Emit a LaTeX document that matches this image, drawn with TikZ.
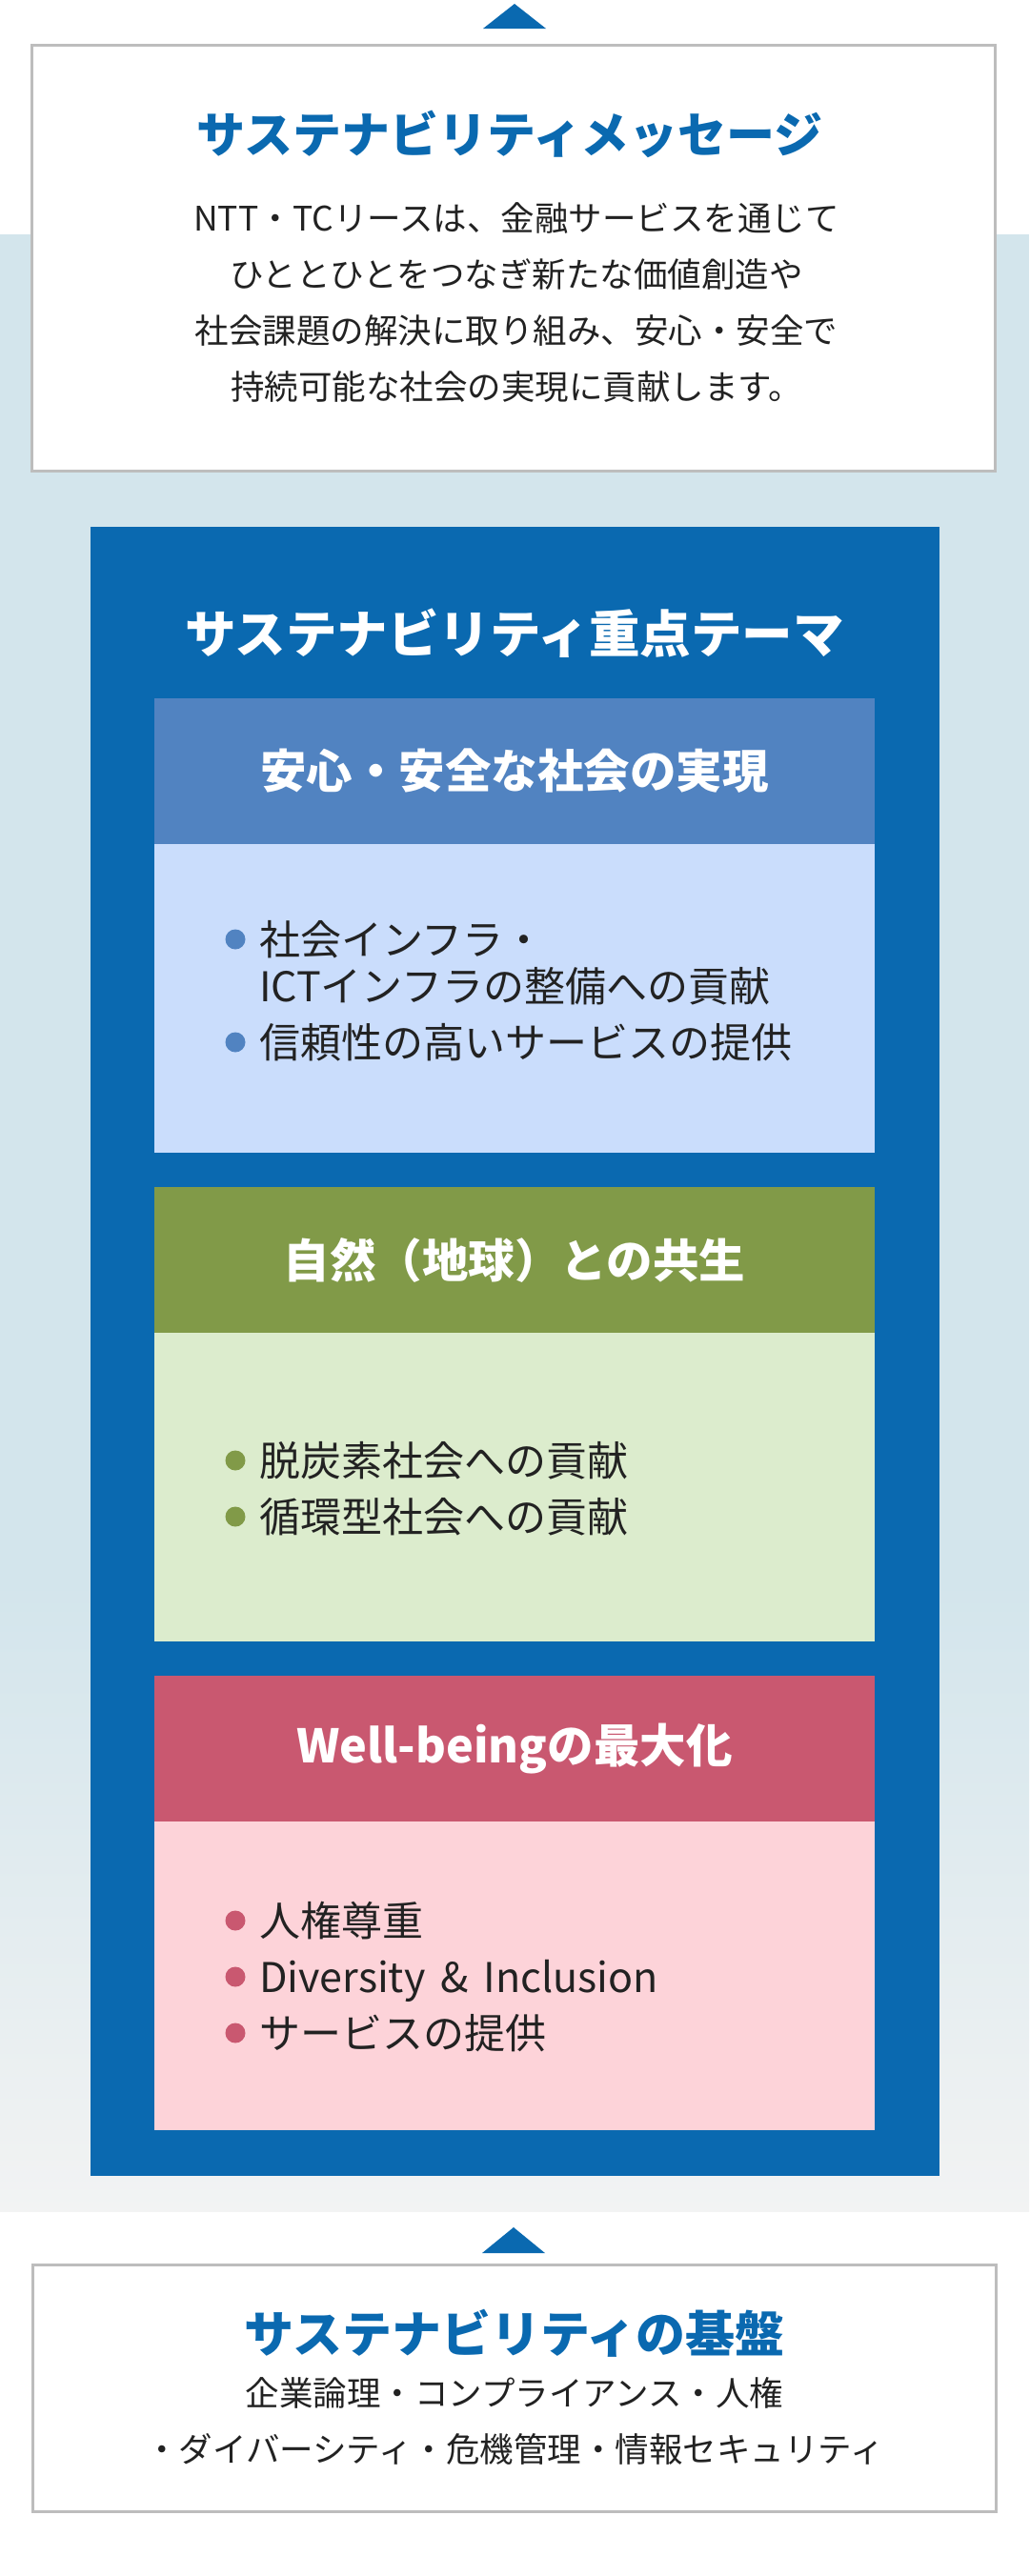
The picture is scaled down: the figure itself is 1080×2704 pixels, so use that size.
\documentclass[tikz,border=0pt]{standalone}
\usepackage{fontspec}
\setmainfont{Noto Sans CJK JP}
\usepackage{tikz}
\usetikzlibrary{positioning}
\definecolor{nttblue}{HTML}{0A69B0}
\definecolor{framegray}{HTML}{BDBDBD}
\definecolor{bandblue}{HTML}{D3E5EC}
\definecolor{bandgray}{HTML}{F2F3F3}
\definecolor{inkblack}{HTML}{222222}
\definecolor{safehead}{HTML}{5183C1}
\definecolor{safebody}{HTML}{CADDFC}
\definecolor{naturehead}{HTML}{819A48}
\definecolor{naturebody}{HTML}{DCECCD}
\definecolor{wellhead}{HTML}{C95870}
\definecolor{wellbody}{HTML}{FDD3D9}
\tikzset{
x=1pt, y=-1pt, % one unit is one pixel of the layout, y runs downwards
every node/.style={outer sep=0pt}, % boxes touch without a gap
framebox/.style={draw=framegray, line width=3pt, fill=white, minimum width=1011pt}, % the two framed boxes
bluetitle/.style={text=nttblue, font=\fontsize{51}{58}\selectfont\bfseries}, % blue headings in the framed boxes
plaintext/.style={text=inkblack, align=center, font=\fontsize{35.5}{59}\selectfont}, % body text in the framed boxes
themehead/.style={minimum width=756pt, minimum height=153pt, text=white, font=\fontsize{48.5}{56}\selectfont\bfseries}, % coloured bar of a theme
themebody/.style={minimum width=756pt, minimum height=324pt}, % pale part of a theme
dot/.style={circle, inner sep=0pt, minimum size=21pt}, % bullet
itemtext/.style={anchor=base west, inner sep=0pt, text=inkblack, align=left, font=\fontsize{43}{49}\selectfont}, % bullet text, anchored at its last line
}

\begin{document}
\begin{tikzpicture}
        \useasboundingbox (0,0) rectangle (1080,2704);
        \fill[bandblue] (0,246) rectangle (1080,1660);
        \shade[top color=bandblue, bottom color=bandgray] (0,1659) rectangle (1080,2321);

        \fill[nttblue] (507,30) -- (540,4) -- (573,30) -- cycle;
        \node[framebox, minimum height=447pt] (msg) at (539,271) {};
        \node[bluetitle] (msgtitle) at (535,141) {サステナビリティメッセージ};
        \node[plaintext] (msgtext) at (542,318) {NTT・TCリースは、金融サービスを通じて\\ひととひとをつなぎ新たな価値創造や\\社会課題の解決に取り組み、安心・安全で\\持続可能な社会の実現に貢献します。};

        \node[fill=nttblue, minimum width=891pt, minimum height=1731pt] (theme) at (540.5,1418.5) {};
        \node[text=white, font=\fontsize{53.5}{60}\selectfont\bfseries] (themetitle) at (540,665) {サステナビリティ重点テーマ};

        \node[themehead, fill=safehead] (h1) at (540,809.5) {安心・安全な社会の実現};
        \node[themebody, fill=safebody, below=0pt of h1] (b1) {};
        \node[themehead, fill=naturehead, below=36pt of b1] (h2) {自然（地球）との共生};
        \node[themebody, fill=naturebody, below=0pt of h2] (b2) {};
        \node[themehead, fill=wellhead, below=36pt of b2] (h3) {Well-beingの最大化};
        \node[themebody, fill=wellbody, below=0pt of h3] (b3) {};

        \node[dot, fill=safehead] (d11) at (247,986) {};
        \node[dot, fill=safehead] (d12) at (247,1094) {};
        \node[itemtext] (t11) at (272,1051) {社会インフラ・\\ICTインフラの整備への貢献};
        \node[itemtext] (t12) at (272,1110) {信頼性の高いサービスの提供};

        \node[dot, fill=naturehead] (d21) at (247,1533) {};
        \node[dot, fill=naturehead] (d22) at (247,1592) {};
        \node[itemtext] (t21) at (272,1549) {脱炭素社会への貢献};
        \node[itemtext] (t22) at (272,1608) {循環型社会への貢献};

        \node[dot, fill=wellhead] (d31) at (247,2016) {};
        \node[dot, fill=wellhead] (d32) at (247,2075) {};
        \node[dot, fill=wellhead] (d33) at (247,2134) {};
        \node[itemtext] (t31) at (272,2032) {人権尊重};
        \node[itemtext] (t32) at (272,2091) {Diversity\hspace{0.37em}\&\hspace{0.37em}Inclusion};
        \node[itemtext] (t33) at (272,2150) {サービスの提供};

        \fill[nttblue] (506,2365) -- (539,2338) -- (572,2365) -- cycle;
        \node[framebox, minimum height=259pt] (base) at (539.5,2507) {};
        \node[bluetitle, font=\fontsize{52}{58}\selectfont\bfseries] (basetitle) at (540,2449) {サステナビリティの基盤};
        \node[plaintext] (basetext) at (540,2541) {企業論理・コンプライアンス・人権\\・ダイバーシティ・危機管理・情報セキュリティ};
      \end{tikzpicture}
\end{document}
